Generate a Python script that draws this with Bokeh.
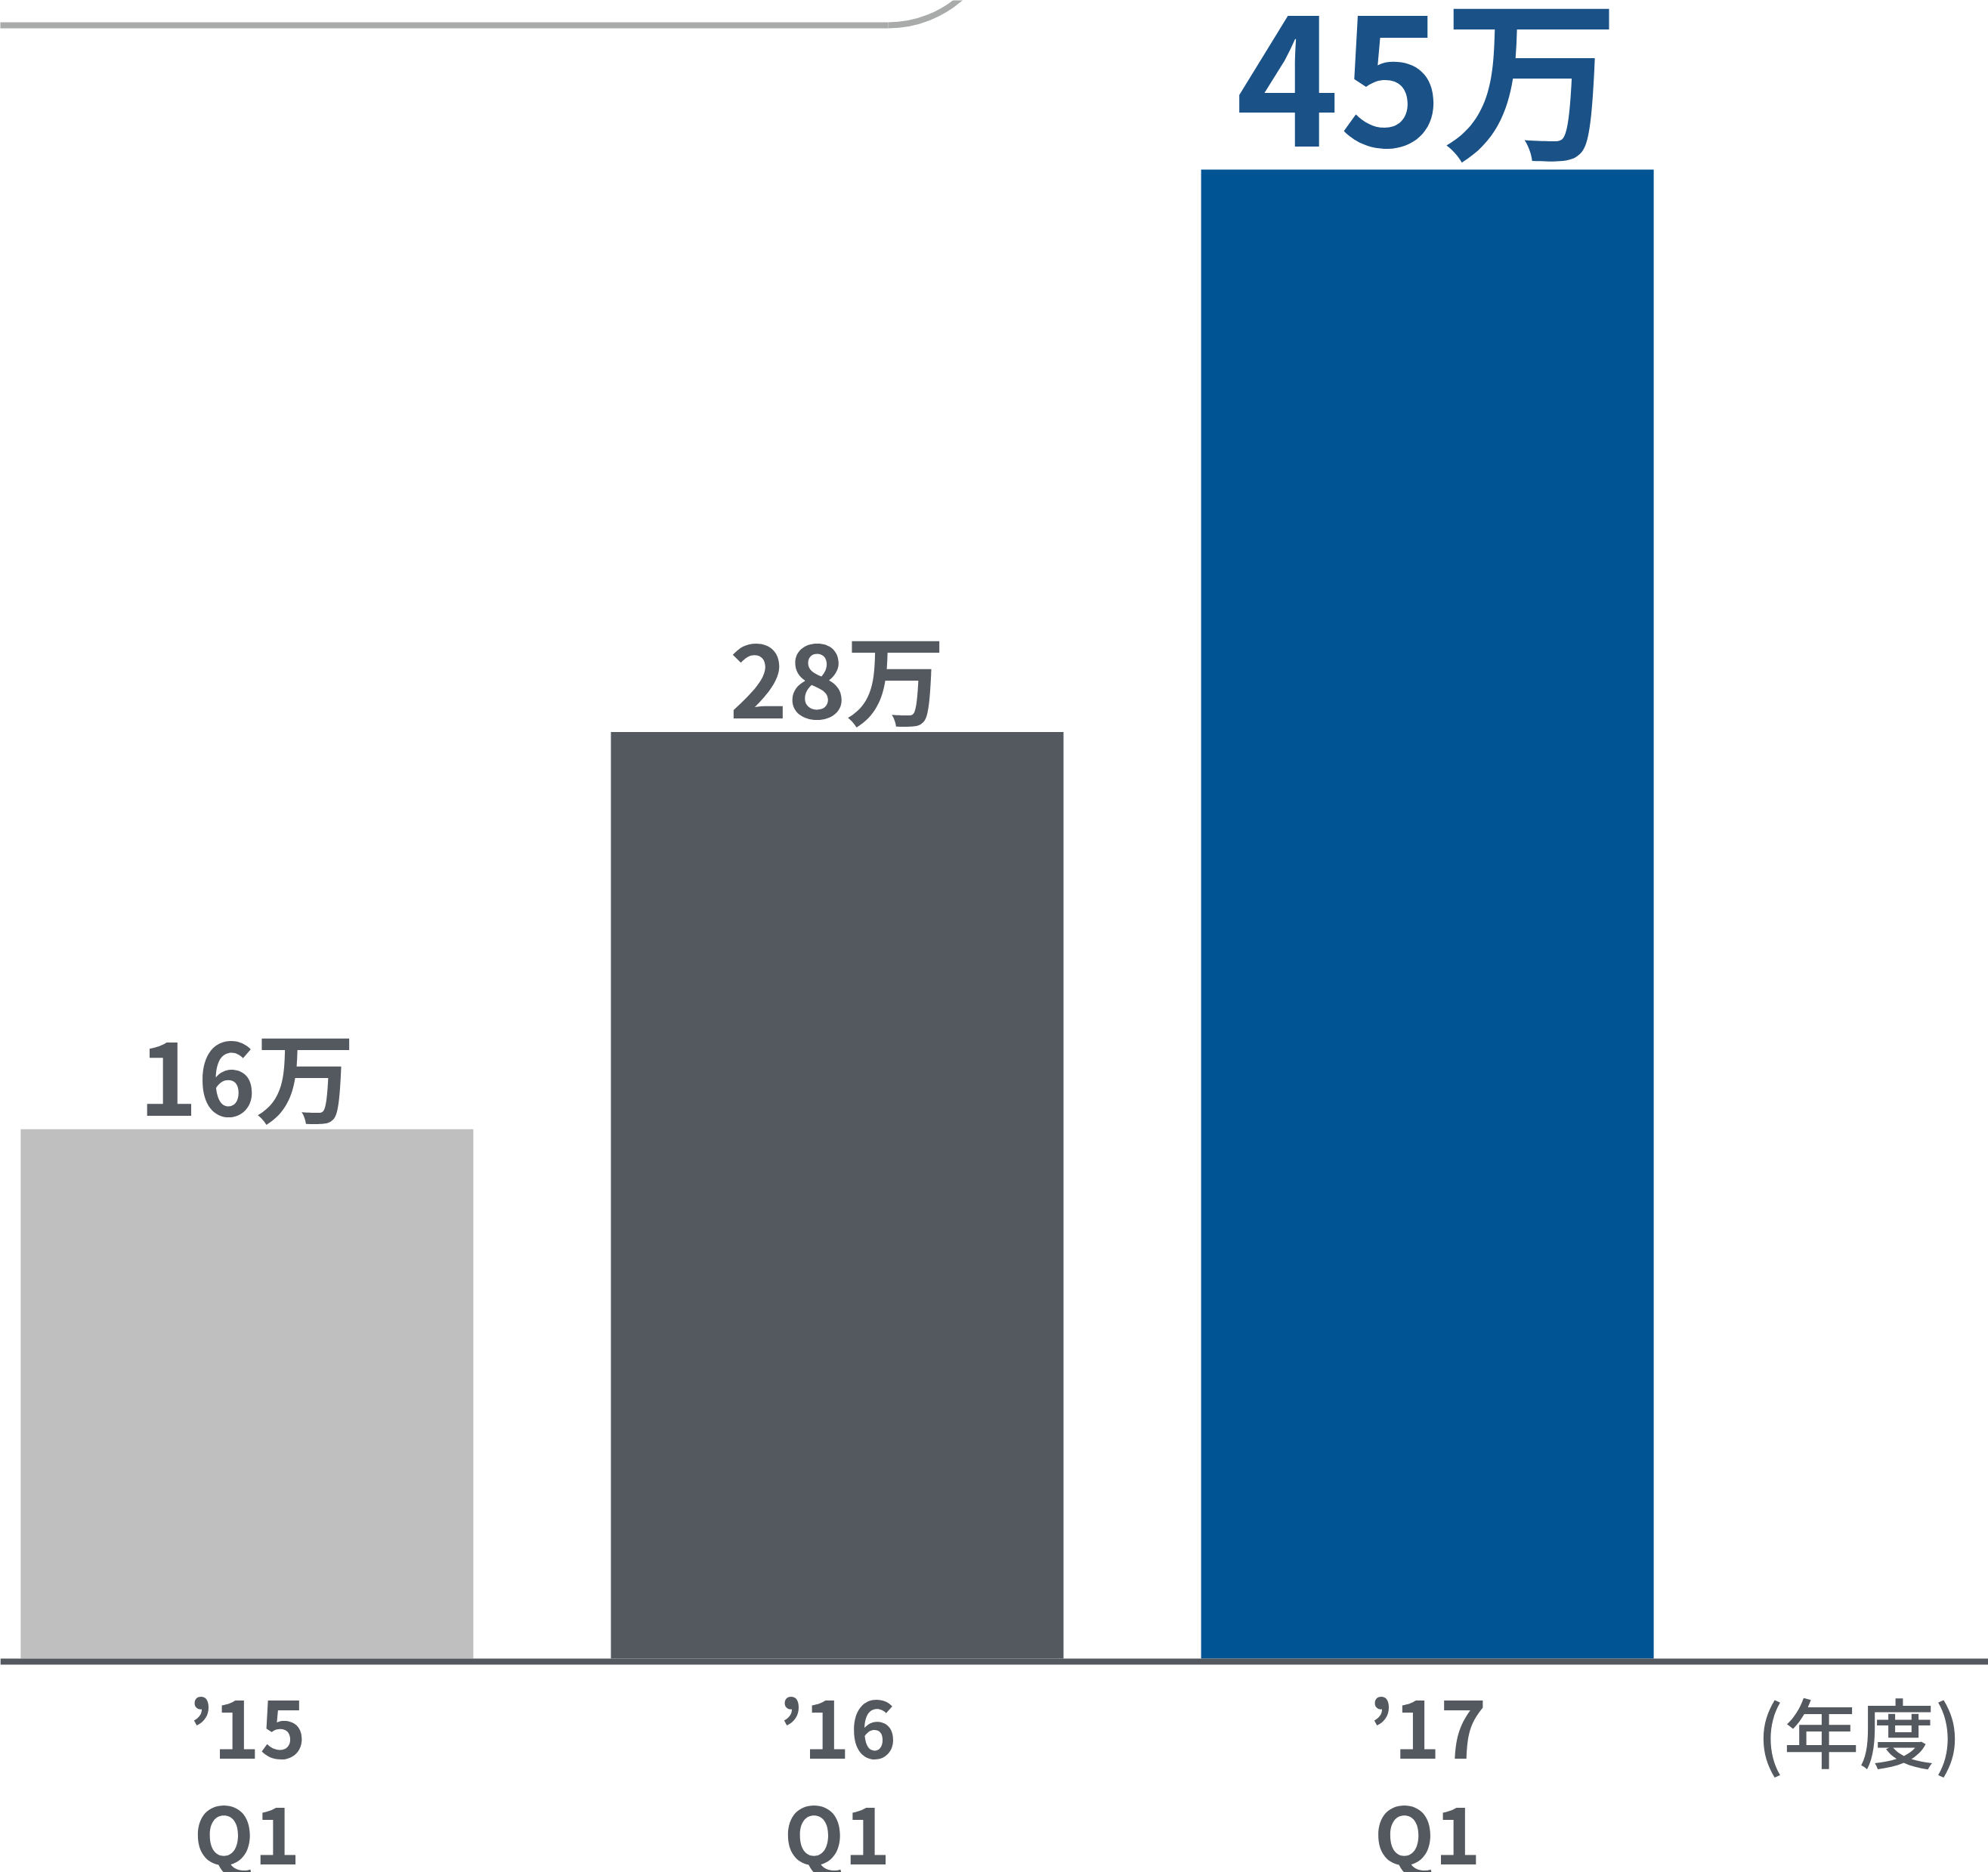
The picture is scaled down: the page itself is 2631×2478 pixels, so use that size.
from bokeh.plotting import figure
from bokeh.models import Range1d, Span, ColumnDataSource
from bokeh.core.properties import value
from bokeh.embed import file_html
from bokeh.resources import INLINE
import math

# ---- data ----
years = ["’15", "’16", "’17"]
quarters = ["Q1", "Q1", "Q1"]
values = [16, 28, 45]
value_labels = ["16万", "28万", "45万"]
unit_label = "(年度)"

# ---- styles ----
bar_colors = ["#bfbfbf", "#54585f", "#005494"]
label_colors = ["#54585f", "#54585f", "#1a5186"]
label_sizes = ["131px", "131px", "233px"]
label_gaps = [-75, -75, -132]
GRAY = "#54585f"
FONT_M = value("Noto Sans CJK JP Medium")
FONT = value("Noto Sans CJK JP")

# ---- layout (pixels) ----
W, H = 2631, 2478
PX_X = 781.1          # pixels per category step
PX_Y = 43.8           # pixels per unit
X0 = 326.4            # pixel of first category centre
BASE = 2195           # pixel of value 0

x_start = -X0 / PX_X
x_end = x_start + W / PX_X
y_end = BASE / PX_Y
y_start = -(H - BASE) / PX_Y

p = figure(width=W, height=H, x_range=Range1d(x_start, x_end),
           y_range=Range1d(y_start, y_end), output_backend="svg",
           toolbar_location=None, min_border=0)
p.xaxis.visible = False
p.yaxis.visible = False
p.grid.visible = False
p.outline_line_color = None
p.background_fill_color = "white"
p.border_fill_color = "white"

xs = list(range(len(values)))
src = ColumnDataSource(dict(x=xs, top=values, label=value_labels,
                            year=years, q=quarters, color=bar_colors,
                            lcolor=label_colors, lsize=label_sizes,
                            lgap=label_gaps))

p.vbar(x="x", top="top", bottom=0, width=599 / PX_X, fill_color="color",
       line_color=None, source=src)

# baseline
p.add_layout(Span(location=-4 / PX_Y, dimension="width", line_color=GRAY,
                  line_width=8))

# value labels
p.text(x="x", y="top", text="label", text_align="center",
       text_baseline="alphabetic", y_offset="lgap", text_font=FONT,
       text_font_style="bold", text_font_size="lsize", text_color="lcolor",
       source=src)

# category labels
p.text(x="x", y=0, text="year", text_align="center", text_baseline="alphabetic",
       y_offset=87, text_font=FONT, text_font_style="bold",
       text_font_size="104px", text_color=GRAY, source=src)
p.text(x="x", y=0, text="q", text_align="center", text_baseline="alphabetic",
       y_offset=227, text_font=FONT, text_font_style="bold",
       text_font_size="104px", text_color=GRAY, source=src)

# unit label
unit_x = (2460 - X0) / PX_X
p.text(x=[unit_x], y=[0], text=[unit_label], text_align="center",
       text_baseline="alphabetic", y_offset=94, text_font=FONT_M,
       text_font_size="100px", text_color=GRAY)

# decorative rounded box corner at top
line_y = y_end - 33 / PX_Y
arc_cx = (1175 - X0) / PX_X
arc_cy = y_end + 112 / PX_Y
p.segment(x0=[x_start - 1], y0=[line_y], x1=[arc_cx], y1=[line_y],
          line_color="#a9aaaa", line_width=8)
p.arc(x=[arc_cx], y=[arc_cy], radius=145, radius_units="screen",
      start_angle=-math.pi / 2, end_angle=0, direction="anticlock",
      line_color="#a9aaaa", line_width=8)

open("out.html", "w").write(file_html(p, INLINE))
